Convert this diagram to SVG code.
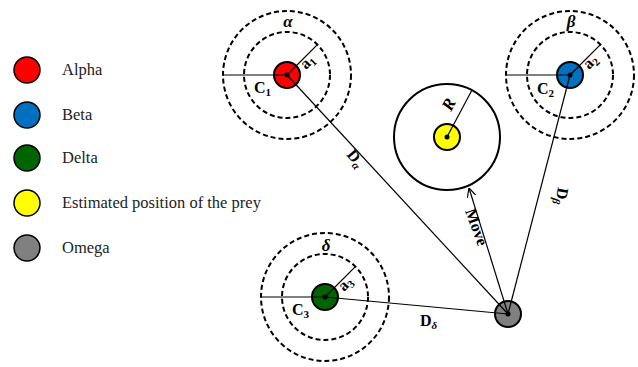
<svg xmlns="http://www.w3.org/2000/svg" width="638" height="367" viewBox="0 0 638 367" font-family="'Liberation Serif', 'DejaVu Serif', serif">
<style>
text{font-family:'Liberation Serif','DejaVu Serif',serif}
.dash{fill:none;stroke:#000;stroke-width:2;stroke-dasharray:5,3}
.ring{fill:none;stroke:#000;stroke-width:2}
.ln{stroke:#000;stroke-width:1.2;fill:none}
.dot{fill:#000}
.wolf{stroke:#000;stroke-width:2}
.leg{stroke:#000;stroke-width:1.5}
.lt{font-size:16.5px;fill:#222}
.lb{font-size:16px;font-weight:bold;fill:#000}
.sub{font-size:11px}
.gr{font-size:17px;font-style:italic;font-weight:bold;fill:#000}
</style>
<defs>
<marker id="arr" viewBox="0 0 10 10" refX="10" refY="5" markerWidth="9" markerHeight="9" markerUnits="userSpaceOnUse" orient="auto">
<path d="M0,0 L10,5 L0,10" fill="none" stroke="#000" stroke-width="1.3"/>
</marker>
</defs>

<g id="legend">
<g id="leg-alpha"><circle cx="27" cy="70" r="13" fill="#FF0000" class="leg"/><text x="62" y="75" class="lt">Alpha</text></g>
<g id="leg-beta"><circle cx="27" cy="115" r="13" fill="#0070C0" class="leg"/><text x="62" y="120" class="lt">Beta</text></g>
<g id="leg-delta"><circle cx="27" cy="158" r="13" fill="#006400" class="leg"/><text x="62" y="163" class="lt">Delta</text></g>
<g id="leg-prey"><circle cx="27" cy="203" r="13" fill="#FFFF00" class="leg"/><text x="62" y="208" class="lt">Estimated position of the prey</text></g>
<g id="leg-omega"><circle cx="27" cy="248" r="13" fill="#808080" class="leg"/><text x="62" y="253" class="lt">Omega</text></g>
</g>

<g id="alpha">
<circle cx="287" cy="75" r="64" class="dash"/>
<circle cx="287" cy="75" r="43" class="dash"/>
<circle cx="287" cy="75" r="13" fill="#FF0000" class="wolf"/>
<line x1="223" y1="75" x2="287" y2="75" class="ln" stroke="#555"/>
<line x1="287" y1="75" x2="317.4" y2="44.6" class="ln"/>
<circle cx="287" cy="75" r="2.5" class="dot"/>
<text x="288" y="27" class="gr" text-anchor="middle">α</text>
<text x="254" y="93" class="lb">C<tspan class="sub" dy="3">1</tspan></text>
<text transform="translate(306,70) rotate(-45)" class="lb">a<tspan class="sub" dy="3">1</tspan></text>
</g>

<g id="beta">
<circle cx="570" cy="75" r="64" class="dash"/>
<circle cx="570" cy="75" r="43" class="dash"/>
<circle cx="570" cy="75" r="13" fill="#0070C0" class="wolf"/>
<line x1="506" y1="75" x2="570" y2="75" class="ln"/>
<line x1="570" y1="75" x2="600.4" y2="44.6" class="ln"/>
<circle cx="570" cy="75" r="2.5" class="dot"/>
<text x="571" y="27" class="gr" text-anchor="middle">β</text>
<text x="537" y="94" class="lb">C<tspan class="sub" dy="3">2</tspan></text>
<text transform="translate(589,70) rotate(-45)" class="lb">a<tspan class="sub" dy="3">2</tspan></text>
</g>

<g id="delta">
<circle cx="325" cy="297" r="64" class="dash"/>
<circle cx="325" cy="297" r="43" class="dash"/>
<circle cx="325" cy="297" r="13" fill="#006400" class="wolf"/>
<line x1="261" y1="297" x2="325" y2="297" class="ln"/>
<line x1="325" y1="297" x2="355.4" y2="266.6" class="ln"/>
<circle cx="325" cy="297" r="2.5" class="dot"/>
<text x="326" y="251" class="gr" text-anchor="middle">δ</text>
<text x="292" y="315" class="lb">C<tspan class="sub" dy="3">3</tspan></text>
<text transform="translate(344,292) rotate(-45)" class="lb">a<tspan class="sub" dy="3">3</tspan></text>
</g>

<g id="prey">
<circle cx="447" cy="137" r="53" class="ring"/>
<circle cx="447" cy="137" r="13" fill="#FFFF00" class="wolf"/>
<line x1="447" y1="137" x2="472" y2="90" class="ln"/>
<circle cx="447" cy="137" r="2.5" class="dot"/>
<text transform="translate(451,112) rotate(-62)" class="gr">R</text>
</g>

<g id="omega">
<circle cx="508" cy="314" r="13" fill="#808080" class="wolf"/>
</g>

<g id="connectors">
<line x1="287" y1="75" x2="508" y2="314" class="ln"/>
<line x1="570" y1="75" x2="508" y2="314" class="ln"/>
<line x1="325" y1="297" x2="508" y2="314" class="ln"/>
<line x1="508" y1="314" x2="469" y2="188" class="ln" marker-end="url(#arr)"/>
<circle cx="508" cy="314" r="2.5" class="dot"/>
<text transform="translate(346,155) rotate(50)" class="lb">D<tspan class="sub" dy="3" font-style="italic">α</tspan></text>
<text transform="translate(558,187) rotate(100)" class="lb">D<tspan class="sub" dy="3" font-style="italic">β</tspan></text>
<text x="420" y="326" class="lb">D<tspan class="sub" dy="3" font-style="italic">δ</tspan></text>
<text transform="translate(465,211) rotate(70)" class="lb">Move</text>
</g>
</svg>
